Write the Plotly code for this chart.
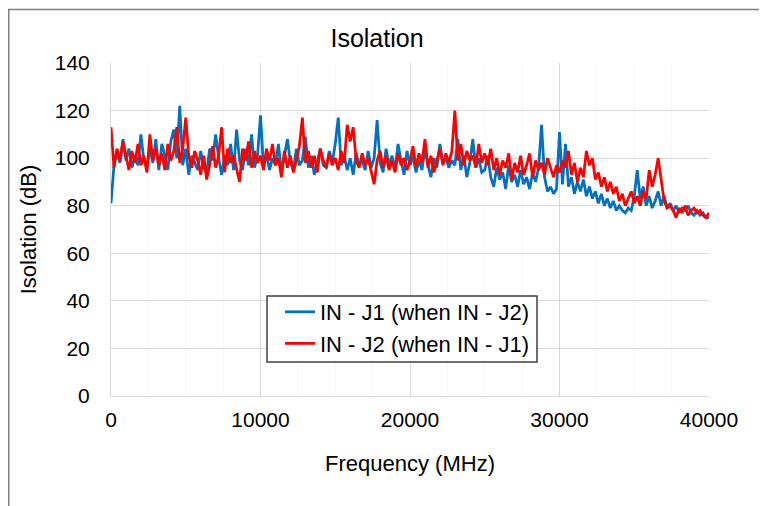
import plotly.graph_objects as go

step_mhz = 200
freq = [i * step_mhz for i in range(201)]

in_j1 = [
    81, 97, 103, 98, 108, 99, 104, 96, 101, 97,
    110, 99, 96, 104, 98, 108, 95, 106, 101, 95,
    107, 112, 100, 122, 97, 104, 93, 101, 98, 95,
    103, 96, 94, 104, 99, 110, 100, 93, 101, 97,
    106, 95, 112, 99, 95, 104, 97, 110, 96, 101,
    118, 96, 102, 95, 100, 97, 106, 94, 101, 108,
    98, 95, 104, 97, 99, 109, 96, 101, 93, 99,
    104, 97, 96, 103, 98, 106, 117, 97, 101, 95,
    100, 93, 102, 97, 99, 95, 103, 96, 100, 116,
    98, 94, 104, 97, 101, 95, 106, 99, 93, 103,
    97, 101, 94, 99, 95, 104, 97, 92, 100, 96,
    106, 98, 100, 96, 99, 97, 108, 95, 101, 92,
    98, 108, 96, 100, 94, 95, 101, 92, 88, 96,
    91, 94, 87, 97, 90, 93, 88, 95, 89, 92,
    87, 94, 90, 96, 114, 92, 86, 88, 85, 87,
    111, 89, 106, 88, 92, 85, 90, 86, 91, 84,
    88, 83, 86, 81, 85, 80, 83, 79, 82, 78,
    80, 78, 77, 79, 78, 84, 95, 83, 88, 80,
    84, 79, 82, 86, 80, 84, 79, 81, 78, 80,
    77, 79, 78, 80, 77, 76, 78, 76, 77, 75,
    75,
]

in_j2 = [
    113, 96, 104, 99, 107, 101, 95, 103, 98, 106,
    97, 101, 94, 110, 99, 104, 97, 102, 95, 106,
    99, 103, 113, 98, 104, 117, 101, 96, 103, 99,
    93, 101, 91, 97, 105, 96, 101, 113, 94, 104,
    98, 101, 96, 90, 104, 99, 107, 96, 103, 98,
    101, 95, 104, 99, 106, 97, 100, 92, 103, 96,
    101, 94, 99, 105, 117, 98, 103, 96, 101, 94,
    104, 99, 96, 102, 97, 100, 95, 103, 98, 114,
    107, 113, 99, 96, 102, 97, 100, 94, 89, 99,
    103, 96, 101, 95, 99, 94, 102, 97, 100, 95,
    99, 105, 96, 102, 98, 108, 96, 101, 94, 99,
    104, 97, 102, 98, 103, 120, 99, 106, 97, 103,
    99, 101, 96, 106, 98, 102, 97, 104, 95, 100,
    93, 99, 96, 102, 91, 98, 94, 101, 93, 97,
    102, 92, 99, 95, 98, 93, 100, 96, 92, 97,
    94, 99, 96, 103, 93, 98, 90, 96, 92, 103,
    97, 100, 91, 94, 88, 92, 86, 90, 85, 88,
    82, 85, 80, 83, 86, 81, 84, 80, 86, 83,
    95, 88, 93, 100, 92, 82, 79, 80, 78, 75,
    79, 77, 80, 76, 78, 79, 77, 78, 76, 75,
    77,
]

series_names = ["IN - J1 (when IN - J2)", "IN - J2 (when IN - J1)"]
series_colors = ["#0070C0", "#FF0000"]
x_ticks = [0, 10000, 20000, 30000, 40000]
y_ticks = [0, 20, 40, 60, 80, 100, 120, 140]

FONT = "Liberation Sans, Arial, sans-serif"

# plot area in figure pixels
PL, PR, PT, PB = 103, 701, 55, 388
PW, PH = PR - PL, PB - PT


def px(xp):
    return (xp - PL) / PW


def py(yp):
    return (PB - yp) / PH


fig = go.Figure()
for name, vals, col in zip(series_names, [in_j1, in_j2], series_colors):
    fig.add_trace(go.Scatter(x=freq, y=vals, mode="lines", name=name,
                             line=dict(color=col, width=2.75)))

fig.update_layout(
    width=767, height=506,
    margin=dict(l=PL, r=767 - PR, t=PT, b=506 - PB),
    paper_bgcolor="white", plot_bgcolor="white",
    font=dict(family=FONT, size=21, color="#000000"),
    title=dict(text="Isolation", x=369 / 767, xanchor="center",
               y=1 - 30 / 506, yanchor="middle",
               font=dict(family=FONT, size=25, color="#000000")),
    showlegend=True,
    legend=dict(x=px(272), y=py(283),
                xanchor="left", yanchor="top",
                bgcolor="rgba(0,0,0,0)", borderwidth=0,
                font=dict(family=FONT, size=22, color="#000000")),
)

fig.update_xaxes(
    range=[0, 40000], tickvals=x_ticks,
    ticktext=[str(v) for v in x_ticks],
    showgrid=True, gridcolor="#d9d9d9", gridwidth=1,
    minor=dict(dtick=2500, showgrid=True, gridcolor="#f6f6f6", gridwidth=1),
    showline=True, linecolor="#d9d9d9", linewidth=1,
    zeroline=False, ticks="", ticklabelstandoff=5,
    tickfont=dict(family=FONT, size=21),
    title=dict(text="Frequency (MHz)", standoff=25,
               font=dict(family=FONT, size=22)),
)
fig.update_yaxes(
    range=[0, 140], tickvals=y_ticks,
    showgrid=True, gridcolor="#d9d9d9", gridwidth=1,
    showline=True, linecolor="#d9d9d9", linewidth=1,
    zeroline=False, ticks="", ticklabelstandoff=16,
    tickfont=dict(family=FONT, size=21),
    title=dict(text="Isolation (dB)", standoff=12,
               font=dict(family=FONT, size=22)),
)

# legend frame
fig.add_shape(type="rect", xref="paper", yref="paper",
              x0=px(259), x1=px(529), y0=py(354), y1=py(288),
              line=dict(color="#404040", width=1.5), fillcolor="white",
              layer="above")

# outer chart-area border (left and top edges visible)
fig.add_shape(type="rect", xref="paper", yref="paper",
              x0=px(0.75), x1=px(800), y0=py(540), y1=py(1.5),
              line=dict(color="#7f7f7f", width=1.5), fillcolor="rgba(0,0,0,0)",
              layer="below")

fig.write_html("out.html")
